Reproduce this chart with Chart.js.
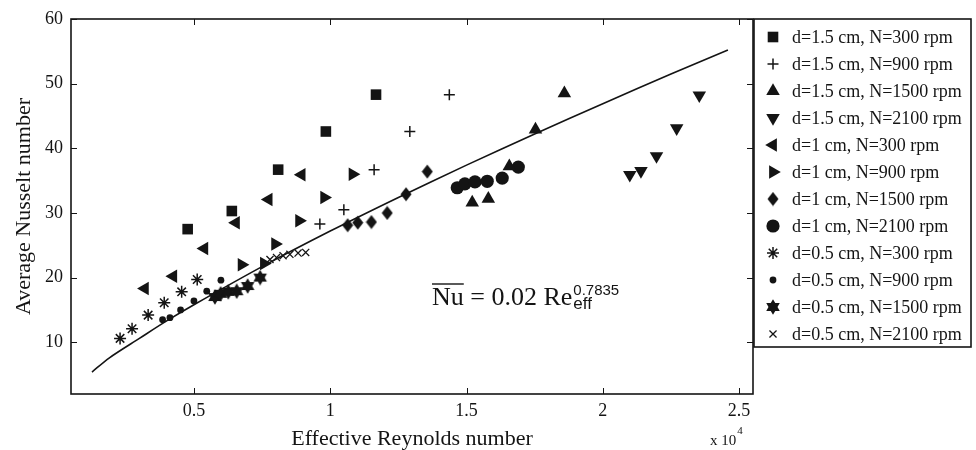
<!DOCTYPE html>
<html>
<head>
<meta charset="utf-8">
<script src="https://cdn.jsdelivr.net/npm/chart.js"></script>
<style>
  html, body { margin: 0; padding: 0; background: #fff; }
  #wrap { width: 976px; height: 450px; }
</style>
</head>
<body>
<div id="wrap"><canvas id="nuChart" width="976" height="450"></canvas></div>
<script>
// Axis ticks (Re in units of 10^4)
const xTicks = [0.5, 1, 1.5, 2, 2.5];
const yTicks = [10, 20, 30, 40, 50, 60];
const xRange = [0.049, 2.551];
const yRange = [2, 60];

const seriesNames = [
    'd=1.5 cm, N=300 rpm', 'd=1.5 cm, N=900 rpm', 'd=1.5 cm, N=1500 rpm', 'd=1.5 cm, N=2100 rpm',
    'd=1 cm, N=300 rpm', 'd=1 cm, N=900 rpm', 'd=1 cm, N=1500 rpm', 'd=1 cm, N=2100 rpm',
    'd=0.5 cm, N=300 rpm', 'd=0.5 cm, N=900 rpm', 'd=0.5 cm, N=1500 rpm', 'd=0.5 cm, N=2100 rpm'
];

// Effective Reynolds number (x 10^4) and average Nusselt number per run
const re15n300 = [0.477, 0.639, 0.809, 0.984, 1.168];
const nu15n300 = [27.5, 30.3, 36.7, 42.6, 48.3];
const re15n900 = [0.962, 1.050, 1.161, 1.292, 1.437];
const nu15n900 = [28.3, 30.5, 36.7, 42.6, 48.3];
const re15n1500 = [1.521, 1.580, 1.657, 1.753, 1.859];
const nu15n1500 = [31.6, 32.2, 37.2, 42.9, 48.5];
const re15n2100 = [2.099, 2.140, 2.197, 2.271, 2.354];
const nu15n2100 = [35.9, 36.5, 38.8, 43.1, 48.2];

const re10n300 = [0.320, 0.424, 0.538, 0.654, 0.774, 0.895];
const nu10n300 = [18.3, 20.2, 24.5, 28.5, 32.1, 35.9];
const re10n900 = [0.675, 0.757, 0.798, 0.886, 0.978, 1.082];
const nu10n900 = [22.0, 22.2, 25.2, 28.8, 32.4, 36.0];
const re10n1500 = [1.064, 1.101, 1.151, 1.209, 1.278, 1.356];
const nu10n1500 = [28.1, 28.5, 28.6, 30.0, 32.9, 36.4];
const re10n2100 = [1.466, 1.494, 1.531, 1.576, 1.631, 1.690];
const nu10n2100 = [33.9, 34.5, 34.8, 34.9, 35.4, 37.1];

const re05n300 = [0.229, 0.273, 0.332, 0.391, 0.455, 0.512];
const nu05n300 = [10.6, 12.1, 14.2, 16.1, 17.8, 19.7];
const re05n900 = [0.385, 0.412, 0.451, 0.500, 0.547, 0.599];
const nu05n900 = [13.5, 13.8, 15.0, 16.4, 17.9, 19.6];
const re05n1500 = [0.577, 0.598, 0.626, 0.657, 0.697, 0.743];
const nu05n1500 = [17.0, 17.5, 17.8, 17.9, 18.7, 20.0];
const re05n2100 = [0.779, 0.803, 0.827, 0.852, 0.882, 0.910];
const nu05n2100 = [22.8, 23.1, 23.4, 23.6, 23.8, 23.9];

// Correlation curve Nu = 0.02 Re_eff^0.7835
const fitRe = [0.126, 0.19, 0.3, 0.4, 0.5, 0.75, 1.0, 1.25, 1.5, 1.75, 2.0, 2.25, 2.459];
const fitNu = [5.4, 7.6, 10.6, 13.3, 15.8, 21.7, 27.2, 32.4, 37.4, 42.2, 46.9, 51.5, 55.2];

const seriesRe = [re15n300, re15n900, re15n1500, re15n2100, re10n300, re10n900, re10n1500, re10n2100, re05n300, re05n900, re05n1500, re05n2100];
const seriesNu = [nu15n300, nu15n900, nu15n1500, nu15n2100, nu10n300, nu10n900, nu10n1500, nu10n2100, nu05n300, nu05n900, nu05n1500, nu05n2100];

const ink = '#141414';
const serif = '"Liberation Serif", "Times New Roman", serif';

// Small canvases for the marker shapes Chart.js doesn't have
const makeMarker = (w, h, path) => {
    const c = document.createElement('canvas');
    c.width = w;
    c.height = h;
    const g = c.getContext('2d');
    g.fillStyle = ink;
    g.beginPath();
    path(g);
    g.closePath();
    g.fill();
    return c;
};

const diamond = makeMarker(12, 15, g => {
    g.moveTo(6, 0.5);
    g.lineTo(11.5, 7.5);
    g.lineTo(6, 14.5);
    g.lineTo(0.5, 7.5);
});

const hexagram = makeMarker(16, 16, g => {
    const cx = 8, cy = 8, ro = 7.8, ri = ro / Math.sqrt(3);
    for (let k = 0; k < 12; k++) {
        const a = -Math.PI / 2 + k * Math.PI / 6;
        const r = k % 2 === 0 ? ro : ri;
        const px = cx + r * Math.cos(a), py = cy + r * Math.sin(a);
        if (k === 0) g.moveTo(px, py); else g.lineTo(px, py);
    }
});

const markerStyles = [
    { pointStyle: 'rect', radius: 7.5 },
    { pointStyle: 'cross', radius: 5.5, border: 1.5 },
    { pointStyle: 'triangle', radius: 7.8 },
    { pointStyle: 'triangle', radius: 7.8, rotation: 180 },
    { pointStyle: 'triangle', radius: 7.8, rotation: 270 },
    { pointStyle: 'triangle', radius: 7.8, rotation: 90 },
    { pointStyle: diamond, radius: 7 },
    { pointStyle: 'circle', radius: 6.6 },
    { pointStyle: 'star', radius: 6, border: 1.5 },
    { pointStyle: 'circle', radius: 3.4 },
    { pointStyle: hexagram, radius: 7 },
    { pointStyle: 'crossRot', radius: 5, border: 1.3 }
];

const datasets = seriesNames.map((name, i) => ({
    label: name,
    data: seriesRe[i].map((x, j) => ({ x: x, y: seriesNu[i][j] })),
    pointStyle: markerStyles[i].pointStyle,
    pointRadius: markerStyles[i].radius,
    pointRotation: markerStyles[i].rotation || 0,
    pointBackgroundColor: ink,
    pointBorderColor: ink,
    pointBorderWidth: markerStyles[i].border || 0,
    showLine: false
}));

datasets.push({
    label: 'fit',
    data: fitRe.map((x, j) => ({ x: x, y: fitNu[j] })),
    showLine: true,
    borderColor: ink,
    borderWidth: 1.6,
    pointRadius: 0,
    tension: 0.3,
    fill: false
});

// Box, inward ticks, legend and the correlation label
const decorations = {
    id: 'decorations',
    beforeDatasetsDraw(chart) {
        const { ctx, chartArea: a, scales } = chart;
        ctx.save();
        ctx.strokeStyle = ink;
        ctx.lineWidth = 1;
        ctx.beginPath();
        xTicks.forEach(v => {
            const px = Math.round(scales.x.getPixelForValue(v)) + 0.5;
            ctx.moveTo(px, a.bottom); ctx.lineTo(px, a.bottom - 6);
            ctx.moveTo(px, a.top); ctx.lineTo(px, a.top + 6);
        });
        yTicks.forEach(v => {
            const py = Math.round(scales.y.getPixelForValue(v)) + 0.5;
            ctx.moveTo(a.left, py); ctx.lineTo(a.left + 6, py);
            ctx.moveTo(a.right, py); ctx.lineTo(a.right - 6, py);
        });
        ctx.stroke();
        ctx.lineWidth = 1.6;
        ctx.strokeRect(a.left, a.top, a.right - a.left, a.bottom - a.top);
        ctx.restore();
    },
    afterDraw(chart) {
        const { ctx, chartArea: a } = chart;
        ctx.save();

        // legend box
        const lx = a.right + 1, ly = a.top, lw = 217, lh = 328;
        ctx.fillStyle = '#fff';
        ctx.fillRect(lx, ly, lw, lh);
        ctx.strokeStyle = ink;
        ctx.lineWidth = 1.6;
        ctx.strokeRect(lx, ly, lw, lh);

        ctx.font = '18px ' + serif;
        ctx.textBaseline = 'middle';
        ctx.textAlign = 'left';
        seriesNames.forEach((name, i) => {
            const y = ly + 18 + i * 27;
            const s = markerStyles[i];
            ctx.fillStyle = ink;
            ctx.strokeStyle = ink;
            ctx.lineWidth = s.border || 0;
            Chart.helpers.drawPoint(ctx, {
                pointStyle: s.pointStyle,
                radius: s.radius,
                rotation: s.rotation || 0,
                borderWidth: s.border || 0
            }, lx + 19, y);
            ctx.fillStyle = ink;
            ctx.fillText(name, lx + 38, y + 1);
        });

        // correlation label
        ctx.textBaseline = 'alphabetic';
        ctx.fillStyle = ink;
        ctx.font = '26px ' + serif;
        const ex = 432, ey = 305;
        const main = 'Nu = 0.02 Re';
        ctx.fillText(main, ex, ey);
        const wNu = ctx.measureText('Nu').width;
        const wMain = ctx.measureText(main).width;
        ctx.strokeStyle = ink;
        ctx.lineWidth = 1.4;
        ctx.beginPath();
        ctx.moveTo(ex, ey - 21);
        ctx.lineTo(ex + wNu, ey - 21);
        ctx.stroke();
        ctx.font = '15px "Liberation Sans", sans-serif';
        ctx.fillText('0.7835', ex + wMain + 1, ey - 10);
        ctx.font = '17px "Liberation Sans", sans-serif';
        ctx.fillText('eff', ex + wMain + 1, ey + 4);

        // axis multiplier
        ctx.font = '15px ' + serif;
        ctx.fillText('x 10', 710, 445);
        const wm = ctx.measureText('x 10').width;
        ctx.font = '11px ' + serif;
        ctx.fillText('4', 710 + wm + 1, 434);

        ctx.restore();
    }
};

const ctx = document.getElementById('nuChart').getContext('2d');
const nuChart = new Chart(ctx, {
    type: 'scatter',
    data: { datasets: datasets },
    options: {
        responsive: false,
        animation: false,
        events: [],
        layout: { padding: { top: 19, right: 223, bottom: 0, left: 0 } },
        plugins: {
            legend: { display: false },
            tooltip: { enabled: false }
        },
        scales: {
            x: {
                type: 'linear',
                min: xRange[0],
                max: xRange[1],
                afterBuildTicks: s => { s.ticks = xTicks.map(v => ({ value: v })); },
                afterFit: s => { s.height = 56; },
                grid: { display: false, drawTicks: false },
                border: { display: false },
                ticks: {
                    color: ink,
                    font: { family: serif, size: 18 },
                    padding: 6,
                    maxRotation: 0,
                    autoSkip: false,
                    callback: v => String(v)
                },
                title: {
                    display: true,
                    text: 'Effective Reynolds number',
                    color: ink,
                    font: { family: serif, size: 22, lineHeight: 1 },
                    padding: 0
                }
            },
            y: {
                type: 'linear',
                min: yRange[0],
                max: yRange[1],
                afterBuildTicks: s => { s.ticks = yTicks.map(v => ({ value: v })); },
                afterFit: s => { s.width = 71; },
                grid: { display: false, drawTicks: false },
                border: { display: false },
                ticks: {
                    color: ink,
                    font: { family: serif, size: 18 },
                    padding: 8,
                    autoSkip: false,
                    callback: v => String(v)
                },
                title: {
                    display: true,
                    text: 'Average Nusselt number',
                    color: ink,
                    font: { family: serif, size: 22, lineHeight: 1 },
                    padding: { top: 13, bottom: 0 }
                }
            }
        }
    },
    plugins: [decorations]
});
</script>
</body>
</html>
